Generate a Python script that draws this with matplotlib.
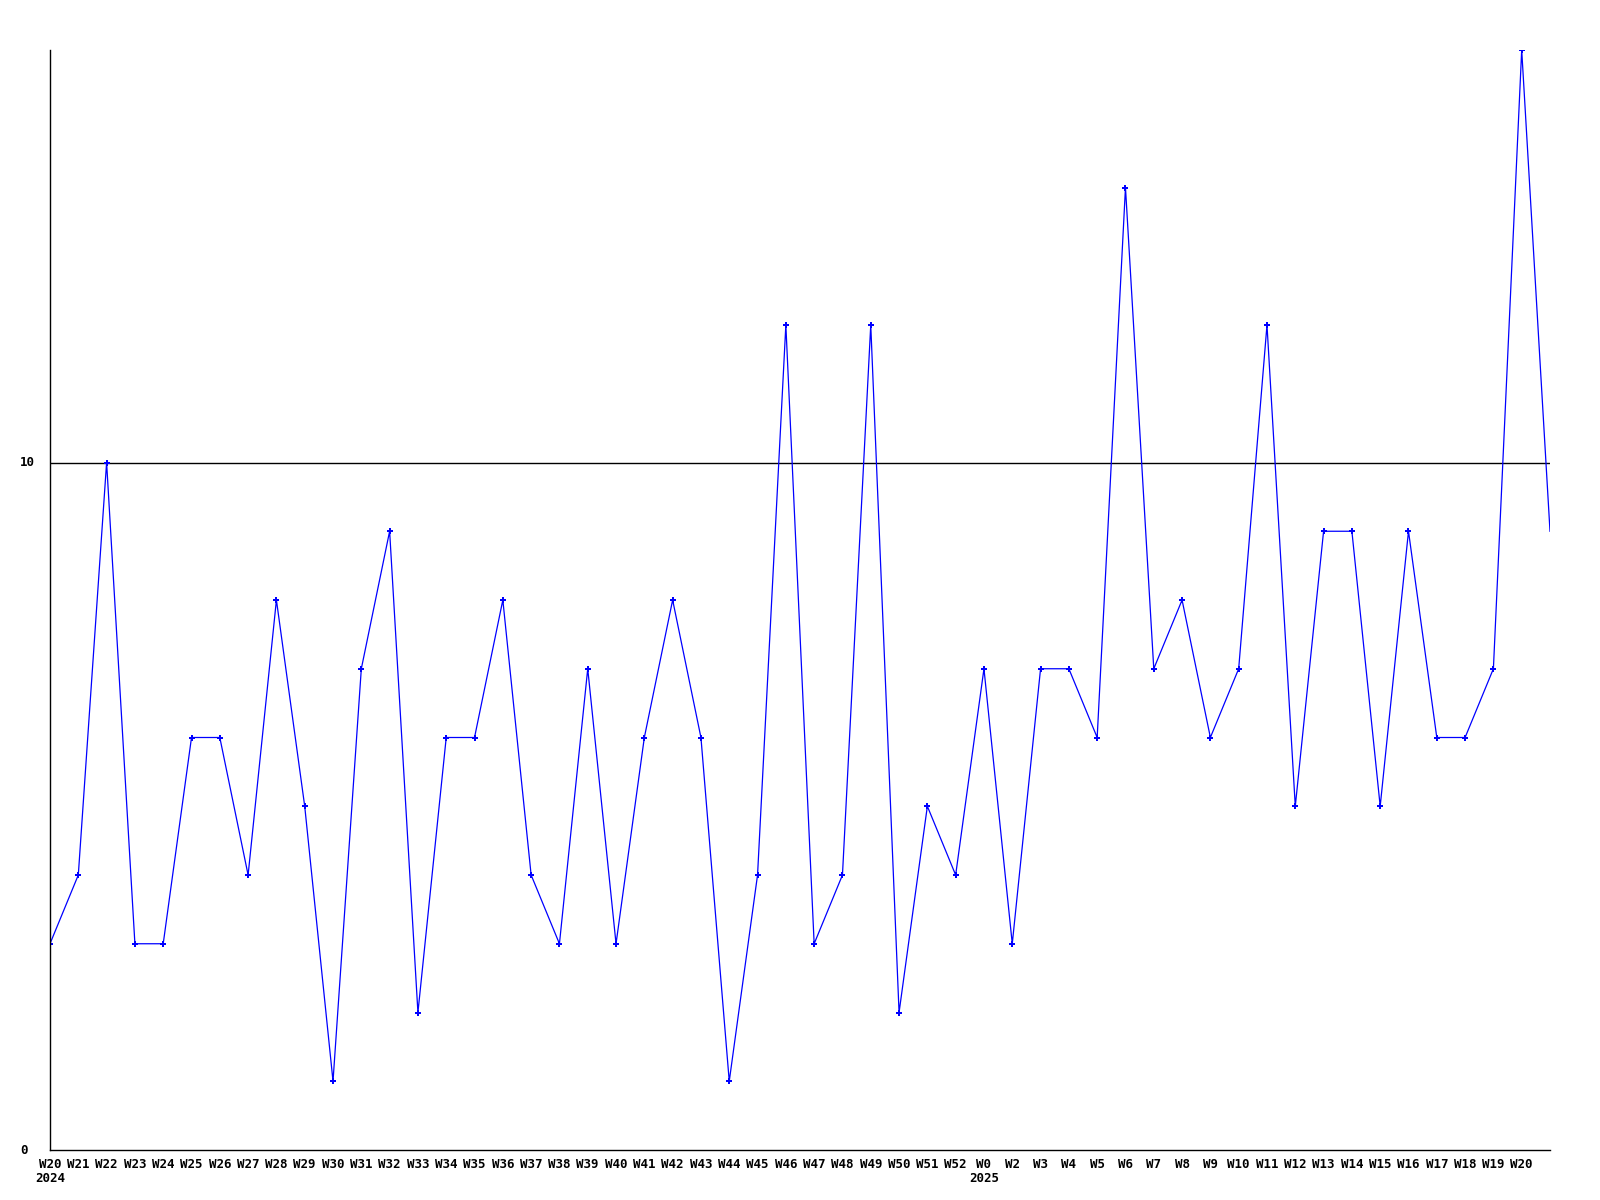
import numpy as np
import matplotlib
matplotlib.use("Agg")
import matplotlib.pyplot as plt

# weekly counts, one per week label (last point has no label)
weeks = ["W20", "W21", "W22", "W23", "W24", "W25", "W26", "W27", "W28", "W29",
         "W30", "W31", "W32", "W33", "W34", "W35", "W36", "W37", "W38", "W39",
         "W40", "W41", "W42", "W43", "W44", "W45", "W46", "W47", "W48", "W49",
         "W50", "W51", "W52", "W0", "W2", "W3", "W4", "W5", "W6", "W7",
         "W8", "W9", "W10", "W11", "W12", "W13", "W14", "W15", "W16", "W17",
         "W18", "W19", "W20", ""]
counts = [3, 4, 10, 3, 3, 6, 6, 4, 8, 5,
          1, 7, 9, 2, 6, 6, 8, 4, 3, 7,
          3, 6, 8, 6, 1, 4, 12, 3, 4, 12,
          2, 5, 4, 7, 3, 7, 7, 6, 14, 7,
          8, 6, 7, 12, 5, 9, 9, 5, 9, 6,
          6, 7, 16, 9]
years = {0: "2024", 33: "2025"}
y_ticks = [0, 10]

font = dict(family="DejaVu Sans Mono", weight="bold", size=9)

fig = plt.figure(figsize=(16, 12), dpi=100)
ax = fig.add_axes([50 / 1600, 50 / 1200, 1500 / 1600, 1100 / 1200])

x = np.arange(len(counts))
ax.plot(x, counts, color="#0000ff", lw=0.9, marker="P", ms=5, mew=0,
        markevery=list(range(len(counts) - 1)))
ax.axhline(10, color="black", lw=1, zorder=0)

ax.set_xlim(0, len(counts) - 1)
ax.set_ylim(0, 16)
ax.set_xticks([])
ax.set_yticks([])
for s in ["top", "right"]:
    ax.spines[s].set_visible(False)
for s in ["left", "bottom"]:
    ax.spines[s].set_linewidth(1)

trans = ax.get_xaxis_transform()
for i, w in enumerate(weeks):
    if w:
        ax.text(i, -0.007, w, transform=trans, ha="center", va="top", **font)
for i, yr in years.items():
    ax.text(i, -0.020, yr, transform=trans, ha="center", va="top", **font)

ytrans = ax.get_yaxis_transform()
for v in y_ticks:
    ax.text(-30 / 1500, v, str(v), transform=ytrans, ha="left", va="center", **font)

fig.savefig("out.png", dpi=100)
